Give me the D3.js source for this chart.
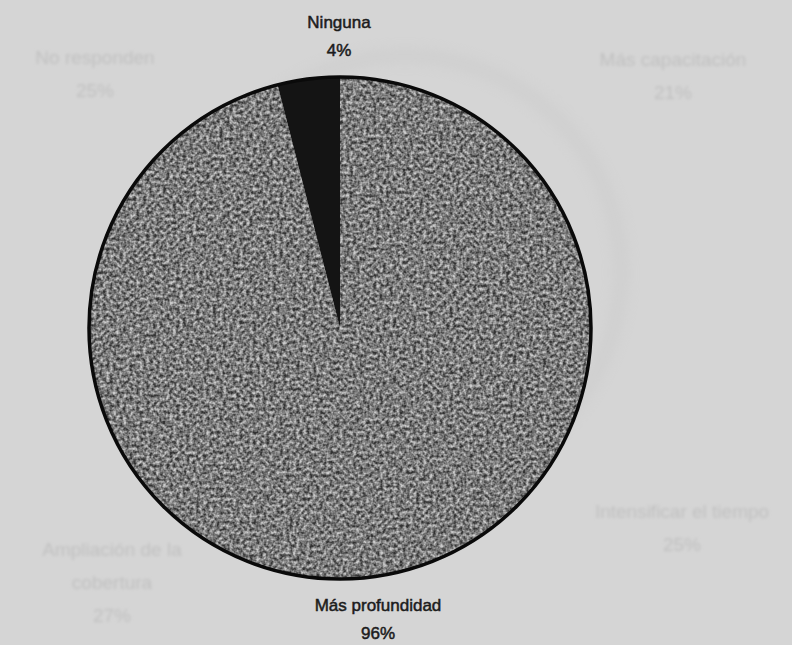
<!DOCTYPE html>
<html><head><meta charset="utf-8">
<script src="https://cdn.jsdelivr.net/npm/d3@7"></script>
<style>html,body{margin:0;padding:0;background:#d5d5d5;}svg{display:block;}</style>
</head><body>
<script>
const categories = ["Más profundidad", "Ninguna"];
const values = [96, 4];
const percentLabels = ["96%", "4%"];
const sliceColors = ["#7e7e7e", "#141414"];
// faint bleed-through text from the reverse page
const ghostLines = [["No responden", "25%"], ["Más capacitación", "21%"], ["Ampliación de la", "cobertura", "27%"], ["Intensificar el tiempo", "25%"]];

const W = 792, H = 645;
const svg = d3.select("body").append("svg").attr("width", W).attr("height", H);
const defs = svg.append("defs");
const f = defs.append("filter").attr("id", "grain").attr("x", 0).attr("y", 0).attr("width", 1).attr("height", 1)
  .attr("color-interpolation-filters", "sRGB");
f.append("feTurbulence").attr("type", "fractalNoise").attr("baseFrequency", 0.3).attr("numOctaves", 2).attr("seed", 5).attr("result", "n");
f.append("feColorMatrix").attr("in", "n").attr("type", "matrix")
  .attr("values", "1.8 0 0 0 -0.42  1.8 0 0 0 -0.42  1.8 0 0 0 -0.42  0 0 0 0 1").attr("result", "g");
f.append("feComposite").attr("in", "g").attr("in2", "SourceAlpha").attr("operator", "in");
const blur = defs.append("filter").attr("id", "soft");
blur.append("feGaussianBlur").attr("stdDeviation", 1.5);
const blur2 = defs.append("filter").attr("id", "soft2").attr("x", -0.2).attr("y", -0.2).attr("width", 1.4).attr("height", 1.4);
blur2.append("feGaussianBlur").attr("stdDeviation", 7);

svg.append("rect").attr("width", W).attr("height", H).attr("fill", "#d5d5d5");

// ghost circle (bleed-through)
svg.append("circle").attr("cx", 405).attr("cy", 272).attr("r", 216)
  .attr("fill", "none").attr("stroke", "#c8c8c8").attr("stroke-width", 14).attr("opacity", 0.45).attr("filter", "url(#soft2)");

const ghostPos = [[95, 64], [673, 66], [112, 556], [682, 518]];
ghostLines.forEach((lines, i) => {
  const t = svg.append("text").attr("font-family", "Liberation Sans, Arial, sans-serif")
    .attr("font-size", 19).attr("fill", "#c0c0c0").attr("text-anchor", "middle").attr("filter", "url(#soft)");
  lines.forEach((l, j) => t.append("tspan").attr("x", ghostPos[i][0]).attr("y", ghostPos[i][1] + j * 33).text(l));
});

const cx = 340, cy = 328, R = 251;
const pie = d3.pie().sort(null).value(d => d)(values);
const arc = d3.arc().innerRadius(0).outerRadius(R);
const g = svg.append("g").attr("transform", `translate(${cx},${cy})`);
g.selectAll("path.base").data(pie).join("path").attr("class", "base")
  .attr("d", arc).attr("fill", (d, i) => sliceColors[i]);
// texture overlay for the grey slice
g.selectAll("path.tex").data([pie[0]]).join("path").attr("class", "tex")
  .attr("d", arc).attr("filter", "url(#grain)").attr("opacity", 0.6);
g.append("circle").attr("r", R).attr("fill", "none").attr("stroke", "#0a0a0a").attr("stroke-width", 3.5);

const labelPos = [[378, 611], [339, 28]];
categories.forEach((c, i) => {
  const t = svg.append("text").attr("font-family", "Liberation Sans, Arial, sans-serif")
    .attr("font-size", 17).attr("fill", "#1c1c1c").attr("text-anchor", "middle")
    .attr("stroke", "#1c1c1c").attr("stroke-width", 0.5);
  t.append("tspan").attr("x", labelPos[i][0]).attr("y", labelPos[i][1]).text(c);
  t.append("tspan").attr("x", labelPos[i][0]).attr("y", labelPos[i][1] + 28).text(percentLabels[i]);
});
</script>
</body></html>
